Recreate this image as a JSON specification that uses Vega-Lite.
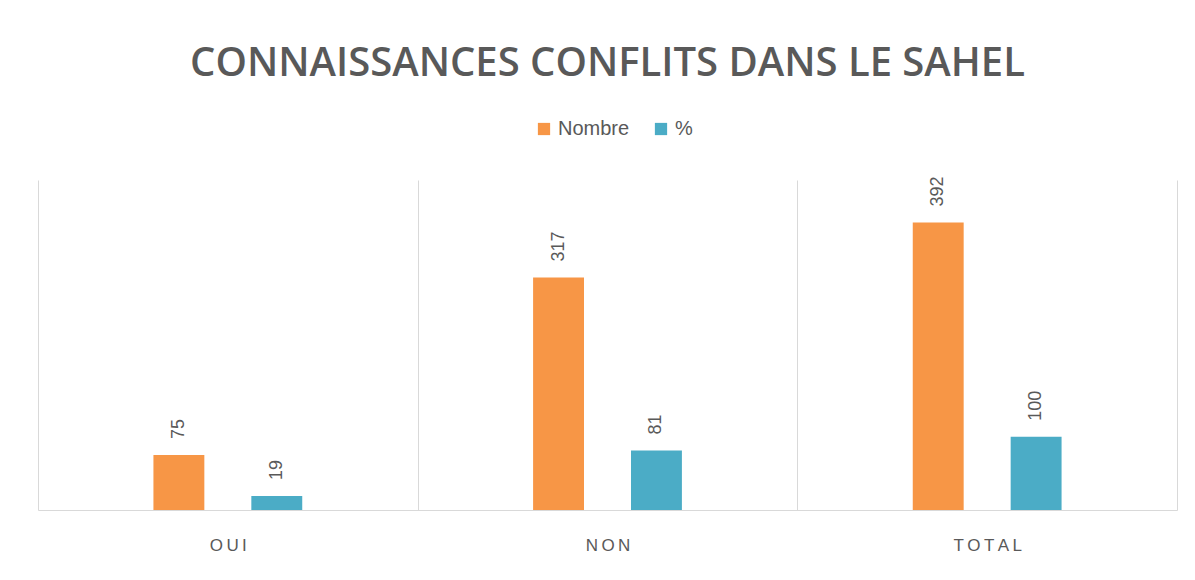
{
  "$schema": "https://vega.github.io/schema/vega-lite/v6.json",
  "width": 1139,
  "height": 330,
  "padding": {"left": 38, "right": 18, "top": 44, "bottom": 10},
  "background": "white",
  "config": {"view": {"stroke": null}, "font": "Liberation Sans"},
  "title": {
    "text": "CONNAISSANCES CONFLITS DANS LE SAHEL",
    "font": "Open Sans",
    "fontSize": 40,
    "fontWeight": 600,
    "color": "#595959",
    "anchor": "middle",
    "offset": 35
  },
  "data": {
    "values": [
      {"cat": "OUI", "serie": "Nombre", "value": 75},
      {"cat": "OUI", "serie": "%", "value": 19},
      {"cat": "NON", "serie": "Nombre", "value": 317},
      {"cat": "NON", "serie": "%", "value": 81},
      {"cat": "TOTAL", "serie": "Nombre", "value": 392},
      {"cat": "TOTAL", "serie": "%", "value": 100}
    ]
  },
  "encoding": {
    "x": {
      "field": "cat",
      "type": "nominal",
      "sort": ["OUI", "NON", "TOTAL"],
      "scale": {"paddingInner": 0, "paddingOuter": 0},
      "axis": {
        "title": null,
        "labelAngle": 0,
        "labelFontSize": 17,
        "labelColor": "#595959",
        "labelPadding": 27,
        "labelExpr": "join(split(datum.label, ''), '\u2009')",
        "ticks": false,
        "grid": true,
        "tickBand": "extent",
        "gridColor": "#d9d9d9",
        "domainColor": "#d9d9d9"
      }
    },
    "xOffset": {
      "field": "serie",
      "type": "nominal",
      "scale": {"domain": [" ", "Nombre", "%", "  "], "paddingInner": 0.48, "paddingOuter": 0.179}
    },
    "y": {
      "field": "value",
      "type": "quantitative",
      "scale": {"domain": [0, 450]},
      "axis": null
    }
  },
  "layer": [
    {
      "mark": {"type": "bar"},
      "encoding": {
        "color": {
          "field": "serie",
          "type": "nominal",
          "scale": {"domain": ["Nombre", "%"], "range": ["#F79646", "#4BACC6"]},
          "legend": {
            "title": null,
            "orient": "none",
            "direction": "horizontal",
            "legendX": 496,
            "legendY": -61,
            "symbolType": "square",
            "symbolSize": 150,
            "symbolStrokeWidth": 0,
            "labelFontSize": 20,
            "labelColor": "#595959",
            "columnPadding": 21,
            "labelOffset": 4
          }
        }
      }
    },
    {
      "mark": {
        "type": "text",
        "angle": 270,
        "align": "left",
        "baseline": "middle",
        "dx": 16,
        "fontSize": 18,
        "color": "#595959"
      },
      "encoding": {"text": {"field": "value", "type": "quantitative"}}
    }
  ]
}
